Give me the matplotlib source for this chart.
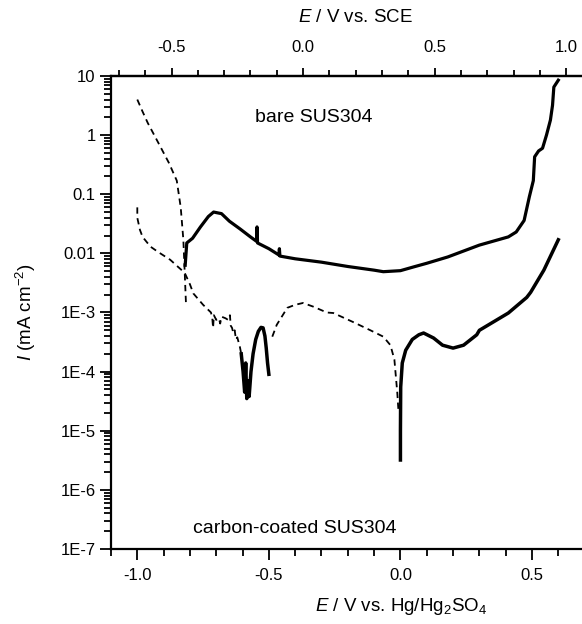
import matplotlib
matplotlib.use("Agg")
import matplotlib.pyplot as plt
from matplotlib.ticker import MultipleLocator, LogLocator, FixedLocator, FixedFormatter, NullFormatter

plt.rcParams['font.family'] = ['Liberation Sans', 'DejaVu Sans']
plt.rcParams['mathtext.fontset'] = 'custom'
plt.rcParams['mathtext.rm'] = 'Liberation Sans'
plt.rcParams['mathtext.it'] = 'Liberation Sans:italic'

# bare SUS304, cathodic branch (dashed)
bare_cat_E = [-1.0, -0.98, -0.96, -0.92, -0.88, -0.85, -0.835, -0.825, -0.82, -0.815]
bare_cat_I = [4.0, 2.5, 1.6, 0.74, 0.34, 0.17, 0.06, 0.017, 0.005, 0.0014]

# bare SUS304, anodic branch (solid)
bare_an_E = [-0.818, -0.812, -0.79, -0.76, -0.73, -0.71, -0.68, -0.65, -0.61, -0.57,
             -0.547, -0.545, -0.543, -0.50, -0.462, -0.46, -0.458, -0.40, -0.30, -0.20,
             -0.10, -0.065, 0.0, 0.05, 0.10, 0.18, 0.30, 0.41, 0.44, 0.47,
             0.49, 0.505, 0.51, 0.525, 0.54, 0.555, 0.57, 0.578, 0.583, 0.60]
bare_an_I = [0.0063, 0.015, 0.018, 0.028, 0.042, 0.050, 0.047, 0.035, 0.026, 0.019,
             0.016, 0.028, 0.015, 0.012, 0.0094, 0.012, 0.0090, 0.0081, 0.0071, 0.0060,
             0.0052, 0.0049, 0.0051, 0.0059, 0.0068, 0.0087, 0.0138, 0.019, 0.023, 0.036,
             0.091, 0.17, 0.43, 0.54, 0.60, 1.0, 1.8, 3.2, 6.5, 8.5]

# carbon-coated SUS304, cathodic part 1 (dashed)
cc_cat1_E = [-1.0, -1.0, -0.99, -0.98, -0.95, -0.92, -0.875, -0.845, -0.82, -0.80,
             -0.787, -0.75, -0.72, -0.715, -0.712, -0.709, -0.70, -0.69, -0.685, -0.68,
             -0.665, -0.655, -0.648, -0.645, -0.64, -0.635, -0.63, -0.625, -0.62, -0.61, -0.605]
cc_cat1_I = [0.06, 0.04, 0.025, 0.019, 0.013, 0.0105, 0.0078, 0.0059, 0.0047, 0.0030,
             0.0021, 0.00135, 0.0010, 0.0008, 0.00055, 0.0009, 0.00075, 0.0008, 0.00065, 0.00085,
             0.0008, 0.00075, 0.0009, 0.0006, 0.00055, 0.00045, 0.0005, 0.00035, 0.00038, 0.00026, 0.0002]

# carbon-coated SUS304, anodic loop (solid)
cc_an1_E = [-0.605, -0.598, -0.592, -0.588, -0.584, -0.579, -0.575, -0.568, -0.56, -0.55,
            -0.54, -0.53, -0.522, -0.515, -0.51, -0.505, -0.50]
cc_an1_I = [2.0e-4, 1.0e-4, 4.5e-5, 1.4e-4, 3.5e-5, 7e-5, 3.8e-5, 1e-4, 2e-4, 3.5e-4,
            4.8e-4, 5.6e-4, 5.5e-4, 4e-4, 2.5e-4, 1.4e-4, 9e-5]

# carbon-coated SUS304, cathodic part 2 (dashed)
cc_cat2_E = [-0.487, -0.47, -0.43, -0.40, -0.37, -0.33, -0.28, -0.255, -0.18, -0.114,
             -0.065, -0.038, -0.023, -0.012, -0.007]
cc_cat2_I = [3.9e-4, 6.2e-4, 1.2e-3, 1.35e-3, 1.45e-3, 1.25e-3, 1.0e-3, 9.8e-4, 6.9e-4, 5.0e-4,
             3.9e-4, 2.8e-4, 1.6e-4, 4.4e-5, 2.0e-5]

# carbon-coated SUS304, anodic branch (solid)
cc_an2_E = [0.0, 0.0, 0.001, 0.007, 0.02, 0.045, 0.07, 0.088, 0.126, 0.16,
            0.20, 0.24, 0.29, 0.30, 0.41, 0.48, 0.495, 0.545, 0.60]
cc_an2_I = [3.2e-6, 1e-5, 5.5e-5, 1.4e-4, 2.3e-4, 3.5e-4, 4.2e-4, 4.5e-4, 3.7e-4, 2.8e-4,
            2.5e-4, 2.8e-4, 4.2e-4, 5.0e-4, 9.8e-4, 1.8e-3, 2.2e-3, 5.2e-3, 0.017]

y_ticks = [1e-7, 1e-6, 1e-5, 1e-4, 1e-3, 1e-2, 1e-1, 1, 10]
y_labels = ['1E-7', '1E-6', '1E-5', '1E-4', '1E-3', '0.01', '0.1', '1', '10']
sce_offset = 0.37

fig = plt.figure(figsize=(5.82, 6.24), dpi=100)
ax = fig.add_axes([0.1907, 0.1202, 0.8093, 0.758])

dash = (0, (3.5, 2.5))
ax.plot(bare_cat_E, bare_cat_I, color='black', lw=1.3, linestyle=dash)
ax.plot(bare_an_E, bare_an_I, color='black', lw=2.3, solid_joinstyle='round')
ax.plot(cc_cat1_E, cc_cat1_I, color='black', lw=1.3, linestyle=dash)
ax.plot(cc_an1_E, cc_an1_I, color='black', lw=2.5, solid_joinstyle='round')
ax.plot(cc_cat2_E, cc_cat2_I, color='black', lw=1.3, linestyle=dash)
ax.plot(cc_an2_E, cc_an2_I, color='black', lw=2.5, solid_joinstyle='round')

ax.set_yscale('log')
ax.set_xlim(-1.1, 0.69)
ax.set_ylim(1e-7, 10)

ax.yaxis.set_major_locator(FixedLocator(y_ticks))
ax.yaxis.set_major_formatter(FixedFormatter(y_labels))
ax.yaxis.set_minor_locator(LogLocator(base=10, subs=range(2, 10), numticks=20))
ax.yaxis.set_minor_formatter(NullFormatter())
ax.xaxis.set_major_locator(MultipleLocator(0.5))
ax.xaxis.set_minor_locator(MultipleLocator(0.1))
ax.xaxis.set_major_formatter(plt.FormatStrFormatter('%.1f'))

ax.tick_params(which='major', direction='out', length=8, width=1.3, labelsize=12, pad=3)
ax.tick_params(which='minor', direction='out', length=5, width=1.3)
ax.tick_params(axis='x', which='major', pad=6)

for s in ['left', 'bottom', 'top']:
    ax.spines[s].set_linewidth(1.6)
ax.spines['right'].set_visible(False)

secax = ax.secondary_xaxis('top', functions=(lambda x: x + sce_offset, lambda x: x - sce_offset))
secax.xaxis.set_major_locator(MultipleLocator(0.5))
secax.xaxis.set_minor_locator(MultipleLocator(0.1))
secax.xaxis.set_major_formatter(plt.FormatStrFormatter('%.1f'))
secax.tick_params(which='major', direction='out', length=6, width=1.3, labelsize=12, pad=9)
secax.tick_params(which='minor', direction='out', length=4, width=1.3)
secax.spines['top'].set_linewidth(1.6)
fig.text(355 / 582, 1 - 18 / 624, r'$E$ / V vs. SCE', fontsize=13.5, ha='center', va='center')

ax.set_xlabel(r'$E$ / V vs. Hg/Hg$_2$SO$_4$', fontsize=13.5)
ax.xaxis.set_label_coords(0.615, -0.1)
ax.set_ylabel(r'$I$ (mA cm$^{-2}$)', fontsize=13.5)
ax.yaxis.set_label_coords(-0.155, 0.5)

ax.text(-0.551, 10 ** 0.29, 'bare SUS304', fontsize=14, ha='left', va='center')
ax.text(-0.79, 10 ** -6.65, 'carbon-coated SUS304', fontsize=14, ha='left', va='center')

fig.savefig('out.png', dpi=100)
